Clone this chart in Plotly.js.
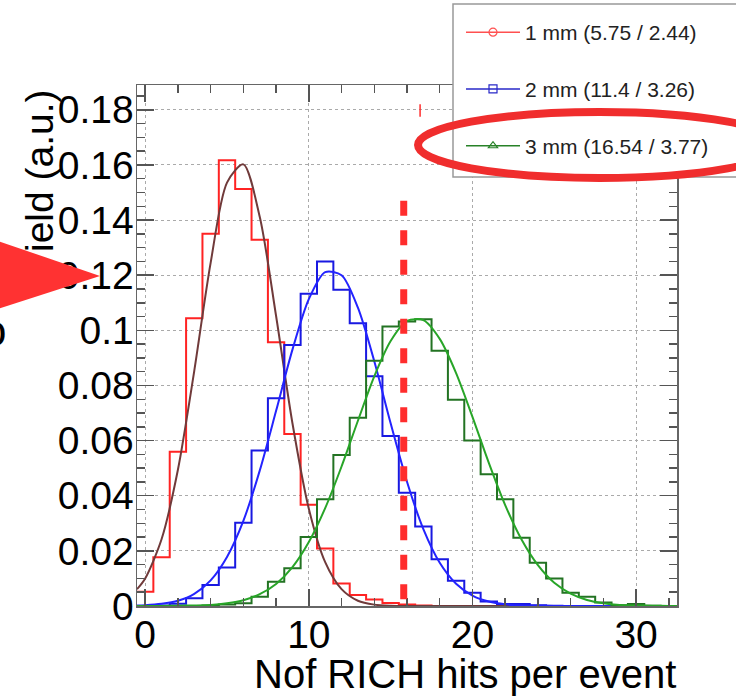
<!DOCTYPE html>
<html><head><meta charset="utf-8">
<script src="https://cdn.plot.ly/plotly-3.0.1.min.js"></script>
<style>html,body{margin:0;padding:0;background:#fff}#chart{width:736px;height:698px}</style>
</head><body><div id="chart"></div>
<script>
// ---- data ----
const binCenters = [0,1,2,3,4,5,6,7,8,9,10,11,12,13,14,15,16,17,18,19,20,21,22,23,24,25,26,27,28,29,30,31,32];
const yield1mm = [0.0052,0.0177,0.056,0.1044,0.135,0.1617,0.1513,0.1329,0.0957,0.0624,0.0367,0.0209,0.0082,0.004,0.0024,0.0011,0.0005,0.0002,0,0,0,0,0,0,0,0,0,0,0,0,0,0,0];
const yield2mm = [0,0.0002,0.0008,0.0028,0.0076,0.014,0.0302,0.0564,0.0754,0.0947,0.1133,0.125,0.1147,0.1026,0.0833,0.0617,0.0411,0.0288,0.017,0.0092,0.0048,0.0016,0.0007,0.0007,0.0003,0.0001,0,0,0,0,0,0,0];
const yield3mm = [0,0,0,0,0.0002,0.0005,0.001,0.0034,0.0088,0.0137,0.025,0.0387,0.0548,0.0683,0.089,0.1014,0.1032,0.104,0.0926,0.0748,0.06,0.0478,0.0387,0.0248,0.0157,0.01,0.0048,0.0034,0.0013,0.0003,0.0007,0.0001,0];
const fitX = [-0.5,0,1,2,3,4,5,6,7,8,9,10,11,12,13,14,15,16,17,18,19,20,21,22,23,24,25,26,27,28,29,30,31,32,32.5];
const fit1mm = [0.0061,0.0100,0.0242,0.0494,0.0853,0.1245,0.1536,0.1602,0.1412,0.1052,0.0663,0.0353,0.0159,0.0061,0.0019,0.0005,0.0001,0,0,0,0,0,0,0,0,0,0,0,0,0,0,0,0,0,0];
const fit2mm = [0.0002,0.0003,0.0008,0.0019,0.0044,0.0093,0.0178,0.0309,0.0491,0.0708,0.0930,0.1113,0.1211,0.1200,0.1082,0.0888,0.0663,0.0451,0.0279,0.0157,0.0081,0.0038,0.0016,0.0006,0.0002,0.0001,0,0,0,0,0,0,0,0,0];
const fit3mm = [0,0,0,0.0001,0.0002,0.0004,0.0010,0.0021,0.0043,0.0080,0.0141,0.0232,0.0355,0.0506,0.0672,0.0833,0.0961,0.1034,0.1037,0.0969,0.0845,0.0686,0.0519,0.0366,0.0241,0.0148,0.0084,0.0045,0.0022,0.0010,0.0004,0.0002,0.0001,0,0];
const legendLabels = ['1 mm (5.75 / 2.44)','2 mm (11.4 / 3.26)','3 mm (16.54 / 3.77)'];
const yTickVals = [0,0.02,0.04,0.06,0.08,0.1,0.12,0.14,0.16,0.18];
const yTickText = ['0','0.02','0.04','0.06','0.08','0.1','0.12','0.14','0.16','0.18'];
const xTickVals = [0,10,20,30];
const xTickText = ['0','10','20','30'];
const cutValue = 15.8, cutTop = 0.147;
const markValue = 16.8, markLow = 0.1775, markHigh = 0.182;
const xTitle = 'Nof RICH hits per event';
const yTitle = 'Yield (a.u.)';

// ---- layout geometry ----
const W = 736, H = 698, ML = 137, MR = 59, MT = 85, MB = 92;
const PW = W - ML - MR, PH = H - MT - MB;
const px = X => (X - ML) / PW;
const py = Y => (H - MB - Y) / PH;
const FONT = 'Liberation Sans, Arial, sans-serif';

function steps(centers, vals) {
  const xs = centers.map(c => c - 0.5);
  xs.push(centers[centers.length - 1] + 0.5);
  const ys = vals.slice();
  ys.push(vals[vals.length - 1]);
  return {xs, ys};
}
const colors = {
  h1: 'rgb(255,35,35)', f1: 'rgb(112,58,58)',
  h2: 'rgb(25,25,225)', f2: 'rgb(35,35,255)',
  h3: 'rgb(35,115,35)', f3: 'rgb(40,165,40)'
};
const traces = [];
[[yield1mm, fit1mm, 'h1', 'f1'], [yield2mm, fit2mm, 'h2', 'f2'], [yield3mm, fit3mm, 'h3', 'f3']].forEach(([h, f, hc, fc]) => {
  const s = steps(binCenters, h);
  traces.push({x: s.xs, y: s.ys, type: 'scatter', mode: 'lines', line: {shape: 'hv', color: colors[hc], width: 2}, showlegend: false, hoverinfo: 'skip'});
  traces.push({x: fitX, y: f, type: 'scatter', mode: 'lines', line: {shape: 'spline', smoothing: 0.8, color: colors[fc], width: 2}, showlegend: false, hoverinfo: 'skip'});
});
const legSyms = [['rgb(255,80,80)', 'circle-open'], ['rgb(40,40,200)', 'square-open'], ['rgb(40,130,40)', 'triangle-up-open']];
legendLabels.forEach((lab, i) => {
  traces.push({x: [null], y: [null], type: 'scatter', mode: 'lines+markers', name: lab, legendgroup: 'g' + i,
    line: {color: legSyms[i][0], width: 1.5}, marker: {symbol: legSyms[i][1], size: 8, color: legSyms[i][0], line: {width: 1.2}}});
});

function pathFrom(pts) {
  return 'M' + pts.map(p => px(p[0]) + ',' + py(p[1])).join(' L') + ' Z';
}

const layout = {
  width: W, height: H,
  margin: {l: ML, r: MR, t: MT, b: MB, autoexpand: false},
  paper_bgcolor: '#fff', plot_bgcolor: '#fff',
  font: {family: FONT, color: '#000', size: 39},
  showlegend: true,
  legend: {x: px(461), y: py(12), xanchor: 'left', yanchor: 'top', bgcolor: 'rgba(0,0,0,0)', borderwidth: 0,
    font: {size: 21, family: FONT, color: '#222'}, tracegroupgap: 26.5, itemwidth: 54, traceorder: 'grouped'},
  xaxis: {range: [-0.5, 32.5], tickvals: xTickVals, ticktext: xTickText, ticks: 'inside', ticklen: 17, tickwidth: 1.5, tickcolor: '#555',
    showline: true, linecolor: '#666', linewidth: 1.5, mirror: 'ticks', showgrid: true, gridcolor: '#aaa', griddash: 'dot', gridwidth: 1,
    zeroline: false, tickfont: {size: 39, family: FONT, color: '#000'}, ticklabelstandoff: -6,
    minor: {dtick: 2, ticks: 'inside', ticklen: 8, tickwidth: 1.5, tickcolor: '#555', showgrid: false}},
  yaxis: {range: [0, 0.189], tickvals: yTickVals, ticktext: yTickText, ticks: 'inside', ticklen: 17, tickwidth: 1.5, tickcolor: '#555',
    showline: true, linecolor: '#666', linewidth: 1.5, mirror: 'ticks', showgrid: true, gridcolor: '#aaa', griddash: 'dot', gridwidth: 1,
    zeroline: false, tickfont: {size: 39, family: FONT, color: '#000'}, ticklabelstandoff: -6,
    minor: {dtick: 0.005, ticks: 'inside', ticklen: 8, tickwidth: 1.5, tickcolor: '#555', showgrid: false}},
  shapes: [
    {type: 'line', xref: 'x', yref: 'y', x0: cutValue, x1: cutValue, y0: cutTop, y1: 0, layer: 'above',
      line: {color: 'rgb(255,45,45)', width: 7, dash: '15px,14.5px'}},
    {type: 'line', xref: 'x', yref: 'y', x0: markValue, x1: markValue, y0: markLow, y1: markHigh, layer: 'above',
      line: {color: 'rgb(255,45,45)', width: 1.5}},
    {type: 'rect', xref: 'paper', yref: 'paper', x0: px(453), x1: px(745), y0: py(177), y1: py(4), layer: 'above',
      fillcolor: '#fff', line: {color: '#999', width: 1.5}},
    {type: 'circle', xref: 'paper', yref: 'paper', x0: px(418), x1: px(781), y0: py(178), y1: py(112), layer: 'above',
      line: {color: 'rgb(240,45,45)', width: 8}},
    {type: 'line', xref: 'paper', yref: 'paper', x0: px(35), x1: px(35), y0: py(276), y1: py(90), layer: 'above',
      line: {color: 'rgba(0,0,0,0)', width: 1},
      label: {text: yTitle, textangle: -90, textposition: 'middle', xanchor: 'center', yanchor: 'middle', padding: 0,
        font: {size: 39, family: FONT, color: '#000'}}},
    {type: 'path', xref: 'paper', yref: 'paper', layer: 'above',
      path: pathFrom([[-20, 234.8], [100, 276], [-20, 314.8]]),
      fillcolor: 'rgb(255,50,50)', line: {width: 0}}
  ],
  annotations: [
    {xref: 'paper', yref: 'paper', x: px(678), y: py(674), xanchor: 'right', yanchor: 'middle', showarrow: false,
      text: xTitle, font: {size: 40, family: FONT, color: '#000'}},
    {xref: 'paper', yref: 'paper', x: px(8), y: py(330), xanchor: 'right', yanchor: 'middle', showarrow: false,
      text: 'o', font: {size: 44, family: FONT, color: '#000'}}
  ]
};
Plotly.newPlot('chart', traces, layout, {displayModeBar: false, staticPlot: true});
</script>
</body></html>
